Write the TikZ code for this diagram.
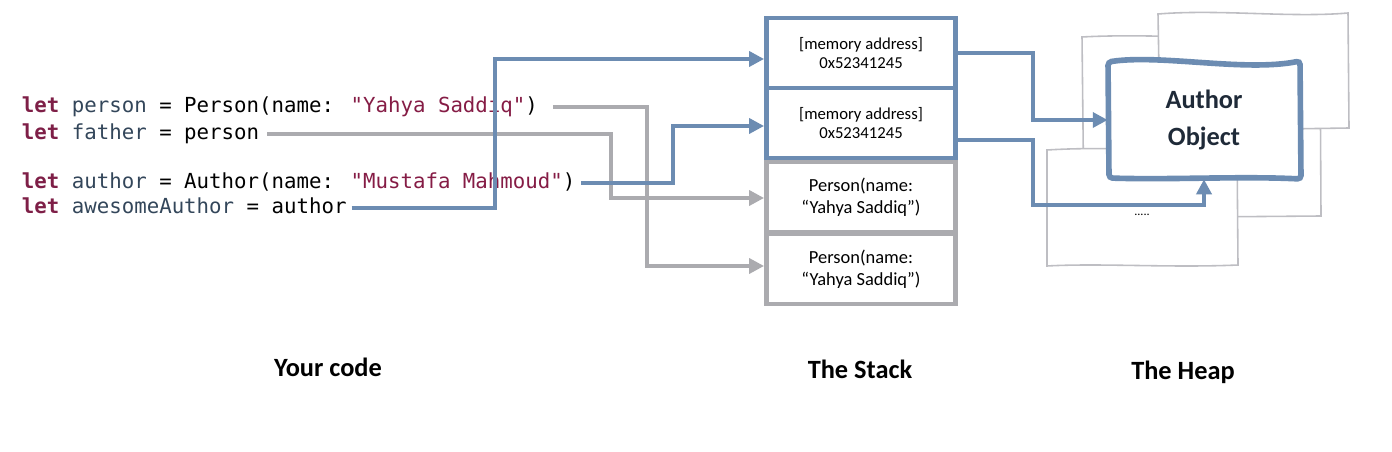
\documentclass[tikz,border=0pt]{standalone}
\usepackage{fontspec}
\setmainfont{Carlito}
\newfontfamily\codefont{DejaVu Sans Mono}
\usetikzlibrary{arrows.meta, calc}
\definecolor{wireblue}{HTML}{6C8CB2}
\definecolor{wiregray}{HTML}{ABABAF}
\definecolor{papergray}{HTML}{BEBEC3}
\definecolor{kwred}{HTML}{7E1F47}
\definecolor{strred}{HTML}{851C45}
\definecolor{varblue}{HTML}{33465A}
\definecolor{navy}{HTML}{1F2A38}

\begin{document}
\begin{tikzpicture}[x=0.02cm, y=-0.02cm, >={Triangle[length=8.5pt,width=8.5pt]},
    code/.style={anchor=west, inner sep=1.5pt, font=\codefont\fontsize{11.8}{14}\selectfont, text height=8.5pt, text depth=2.5pt},
    cell/.style={draw, line width=2.8pt, minimum width=3.78cm, minimum height=1.4cm, align=center, inner sep=0pt},
    addrcell/.style={cell, draw=wireblue, font=\fontsize{9.5}{11.3}\selectfont},
    valcell/.style={cell, draw=wiregray, font=\fontsize{10.5}{12.5}\selectfont},
    wire/.style={line width=2.1pt, ->},
    paper/.style={draw=papergray, line width=0.9pt, fill=white},
    title/.style={font=\bfseries\fontsize{15}{18}\selectfont}]
    \useasboundingbox (0,0) rectangle (1392,452);

    % your code
    \node[code] (code1) at (19,107) {\textcolor{kwred}{\bfseries let} \textcolor{varblue}{person} = Person(name: \textcolor{strred}{"Yahya Saddiq"})};
    \node[code] (code2) at (19,134) {\textcolor{kwred}{\bfseries let} \textcolor{varblue}{father} = person};
    \node[code] (code3) at (19,183) {\textcolor{kwred}{\bfseries let} \textcolor{varblue}{author} = Author(name: \textcolor{strred}{"Mustafa Mahmoud"})};
    \node[code] (code4) at (19,208) {\textcolor{kwred}{\bfseries let} \textcolor{varblue}{awesomeAuthor} = author};

    % the stack
    \node[addrcell] (addr1) at (861,53) {[memory address]\\0x52341245};
    \node[addrcell] (addr2) at (861,123) {[memory address]\\0x52341245};
    \node[valcell] (val1) at (861,197) {Person(name:\\“Yahya Saddiq”)};
    \node[valcell] (val2) at (861,269) {Person(name:\\“Yahya Saddiq”)};

    % the heap
    \draw[paper] (1082,37) .. controls (1150,33) and (1250,41) .. (1320,38) -- (1321,216) -- (1084,218) -- cycle;
    \draw[paper] (1158,14) .. controls (1220,9) and (1290,18) .. (1348,13) -- (1349,128) -- (1160,131) -- cycle;
    \draw[paper] (1047,150) .. controls (1110,146) and (1180,152) .. (1237,148) -- (1238,265) .. controls (1170,268) and (1100,263) .. (1047,266) -- cycle;
    \draw[wireblue, line width=3.2pt, fill=white, rounded corners=2pt] (1108,62) .. controls (1160,54) and (1245,72) .. (1300,61) -- (1301,179) .. controls (1240,176) and (1170,180) .. (1109,178) -- cycle;
    \node[minimum width=3.84cm, minimum height=2.36cm, align=center, text=navy, font=\bfseries\fontsize{15}{21}\selectfont] (author) at (1204,120) {Author\\Object};
    \node[font=\scriptsize] (dots) at (1142,215) {.....};

    % code -> stack
    \coordinate (j1) at (647,266);
    \coordinate (j2) at (611,198);
    \coordinate (j3) at (673,126);
    \coordinate (j4) at (495,59);
    \draw[wire, wiregray] ($(code1.east)+(12,0)$) -| (j1) -- (j1 -| val2.west);
    \draw[wire, wiregray] ($(code2.east)+(5,0)$) -| (j2) -- (j2 -| val1.west);
    \draw[wire, wireblue] ($(code3.east)+(3,0)$) -| (j3) -- (j3 -| addr2.west);
    \draw[wire, wireblue] ($(code4.east)+(2,0)$) -| (j4) -- (j4 -| addr1.west);

    % stack -> heap
    \coordinate (h1) at (1033,120);
    \coordinate (h2) at (1033,205);
    \draw[wire, wireblue] (addr1.east) -| (h1) -- (author.west);
    \draw[wire, wireblue] ($(addr2.east)+(0,17)$) -| (h2) -| (author.south);

    \node[title] (yourcode) at (328,367) {Your code};
    \node[title] (stack) at (860,369) {The Stack};
    \node[title] (heap) at (1183,372) {The Heap};
\end{tikzpicture}
\end{document}
